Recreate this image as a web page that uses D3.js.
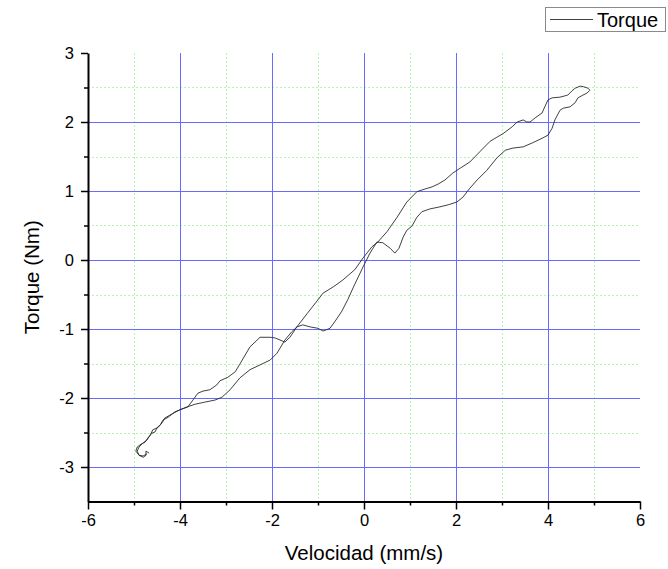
<!DOCTYPE html>
<html>
<head>
<meta charset="utf-8">
<script src="https://cdn.jsdelivr.net/npm/d3@7"></script>
<style>
  body { margin: 0; background: #fff; }
  svg { display: block; font-family: "Liberation Sans", Arial, sans-serif; }
</style>
</head>
<body>
<svg id="chart" width="668" height="569"></svg>
<script>
// Axis ticks
const xTicks = [-6, -4, -2, 0, 2, 4, 6];
const xMinorTicks = [-5, -3, -1, 1, 3, 5];
const yTicks = [-3, -2, -1, 0, 1, 2, 3];
const yMinorTicks = [-2.5, -1.5, -0.5, 0.5, 1.5, 2.5];

// Hysteresis loop: outgoing branch (negative -> positive velocity)
const velIda = [-4.72,-4.80,-4.89,-4.93,-4.89,-4.80,-4.72,-4.65,-4.59,-4.48,-4.39,-4.33,-4.17,-4.00,-3.85,-3.67,-3.46,-3.24,-3.09,-2.91,-2.70,-2.48,-2.26,-2.04,-1.89,-1.72,-1.57,-1.46,-1.24,-1.04,-0.89,-0.67,-0.46,-0.20,-0.02,0.17,0.30,0.50,0.72,0.93,1.15,1.33,1.48,1.61,1.76,1.93,2.09,2.30,2.52,2.74,2.89,3.02,3.22,3.33,3.46,3.54,3.61,3.72,3.87,3.93,4.00,4.09,4.26,4.43,4.52,4.59,4.70,4.78,4.87,4.91];
const torIda = [-2.81,-2.84,-2.83,-2.77,-2.71,-2.65,-2.61,-2.54,-2.46,-2.43,-2.36,-2.29,-2.23,-2.17,-2.13,-2.09,-2.06,-2.03,-1.99,-1.88,-1.71,-1.59,-1.52,-1.45,-1.35,-1.16,-1.04,-0.97,-0.78,-0.61,-0.48,-0.39,-0.29,-0.14,0.03,0.19,0.26,0.41,0.62,0.84,0.99,1.03,1.06,1.10,1.16,1.26,1.33,1.42,1.57,1.72,1.78,1.83,1.93,2.00,2.03,2.00,2.00,2.06,2.13,2.22,2.32,2.35,2.36,2.39,2.45,2.49,2.52,2.51,2.49,2.46];

// Return branch (positive -> negative velocity)
const velVuelta = [4.85,4.76,4.65,4.59,4.48,4.33,4.26,4.15,4.09,4.00,3.89,3.67,3.46,3.22,3.07,2.89,2.67,2.46,2.30,2.15,2.02,1.83,1.65,1.43,1.26,1.15,1.04,0.93,0.85,0.76,0.67,0.57,0.41,0.28,0.13,-0.02,-0.20,-0.35,-0.48,-0.61,-0.74,-0.89,-1.00,-1.17,-1.33,-1.46,-1.61,-1.72,-1.93,-2.04,-2.26,-2.48,-2.70,-2.80,-2.96,-3.13,-3.20,-3.35,-3.50,-3.61,-3.72,-3.83,-4.00,-4.11,-4.26,-4.37,-4.43,-4.50,-4.54,-4.61,-4.70,-4.76,-4.85,-4.93,-4.96,-4.89,-4.80,-4.74,-4.74,-4.67];
const torVuelta = [2.42,2.39,2.35,2.28,2.22,2.20,2.17,2.03,1.91,1.81,1.77,1.70,1.64,1.62,1.59,1.48,1.30,1.16,1.04,0.91,0.84,0.80,0.77,0.74,0.70,0.62,0.49,0.43,0.33,0.17,0.10,0.17,0.25,0.26,0.10,-0.10,-0.35,-0.57,-0.74,-0.87,-0.99,-1.03,-0.99,-0.97,-0.94,-0.97,-1.12,-1.19,-1.13,-1.12,-1.12,-1.26,-1.51,-1.62,-1.70,-1.75,-1.81,-1.88,-1.90,-1.93,-2.03,-2.13,-2.17,-2.20,-2.28,-2.32,-2.39,-2.43,-2.49,-2.51,-2.58,-2.64,-2.67,-2.71,-2.77,-2.83,-2.86,-2.83,-2.77,-2.80];

const seriesName = "Torque";
const xTitle = "Velocidad (mm/s)";
const yTitle = "Torque (Nm)";

const svg = d3.select("#chart");
const x = d3.scaleLinear().domain([-6, 6]).range([88, 640]);
const y = d3.scaleLinear().domain([-3.5, 3]).range([501.5, 53]);

const grid = svg.append("g");

// minor grid (dotted green)
grid.selectAll(".mgx").data(xMinorTicks).join("line")
  .attr("x1", d => x(d) + 0.5).attr("x2", d => x(d) + 0.5)
  .attr("y1", y(3)).attr("y2", y(-3.5))
  .attr("stroke", "#b4f5b4").attr("stroke-width", 1).attr("stroke-dasharray", "2,2");
grid.selectAll(".mgy").data(yMinorTicks).join("line")
  .attr("y1", d => Math.round(y(d)) + 0.5).attr("y2", d => Math.round(y(d)) + 0.5)
  .attr("x1", x(-6)).attr("x2", x(6))
  .attr("stroke", "#b4f5b4").attr("stroke-width", 1).attr("stroke-dasharray", "2,2");

// major grid (blue)
grid.selectAll(".gx").data(xTicks.filter(d => d > -6 && d < 6)).join("line")
  .attr("x1", d => x(d) + 0.5).attr("x2", d => x(d) + 0.5)
  .attr("y1", y(3)).attr("y2", y(-3.5))
  .attr("stroke", "#6a6aff").attr("stroke-width", 1);
grid.selectAll(".gy").data(yTicks.filter(d => d < 3)).join("line")
  .attr("y1", d => Math.round(y(d)) + 0.5).attr("y2", d => Math.round(y(d)) + 0.5)
  .attr("x1", x(-6)).attr("x2", x(6))
  .attr("stroke", "#6a6aff").attr("stroke-width", 1);

// loop curve
const pts = velIda.map((v, i) => [v, torIda[i]])
  .concat(velVuelta.map((v, i) => [v, torVuelta[i]]));
svg.append("path")
  .datum(pts)
  .attr("fill", "none")
  .attr("stroke", "#2a2a2a")
  .attr("stroke-width", 0.9)
  .attr("stroke-linejoin", "round")
  .attr("d", d3.line().x(d => x(d[0])).y(d => y(d[1])));

// axes
const fmt = d => String(d);
function styleAxis(g) {
  g.select(".domain").attr("stroke", "#000").attr("stroke-width", 2);
  g.selectAll(".tick line").attr("stroke", "#000").attr("stroke-width", 1.5);
  g.selectAll("text").attr("fill", "#000").attr("font-size", "16.5px")
    .attr("font-family", "'Liberation Sans', Arial, sans-serif");
}

const xAxis = svg.append("g").attr("transform", `translate(0,${y(-3.5)})`)
  .call(d3.axisBottom(x).tickValues(xTicks).tickFormat(fmt).tickSize(8).tickSizeOuter(0).tickPadding(5));
styleAxis(xAxis);
const xAxisMinor = svg.append("g").attr("transform", `translate(0,${y(-3.5)})`)
  .call(d3.axisBottom(x).tickValues(xMinorTicks).tickFormat("").tickSize(4).tickSizeOuter(0));
xAxisMinor.select(".domain").remove();
xAxisMinor.selectAll(".tick line").attr("stroke", "#000").attr("stroke-width", 1.5);

const yAxis = svg.append("g").attr("transform", `translate(${x(-6)},0)`)
  .call(d3.axisLeft(y).tickValues(yTicks).tickFormat(fmt).tickSize(7).tickSizeOuter(0).tickPadding(7));
styleAxis(yAxis);
const yAxisMinor = svg.append("g").attr("transform", `translate(${x(-6)},0)`)
  .call(d3.axisLeft(y).tickValues(yMinorTicks).tickFormat("").tickSize(4).tickSizeOuter(0));
yAxisMinor.select(".domain").remove();
yAxisMinor.selectAll(".tick line").attr("stroke", "#000").attr("stroke-width", 1.5);

// axis titles
svg.append("text")
  .attr("x", (x(-6) + x(6)) / 2).attr("y", 560)
  .attr("text-anchor", "middle").attr("font-size", "20.5px").attr("fill", "#000")
  .text(xTitle);
svg.append("text")
  .attr("transform", `translate(39,${(y(3) + y(-3.5)) / 2}) rotate(-90)`)
  .attr("text-anchor", "middle").attr("font-size", "20.5px").attr("fill", "#000")
  .text(yTitle);

// legend
const lg = svg.append("g");
lg.append("rect").attr("x", 545.5).attr("y", 7.5).attr("width", 120).attr("height", 24)
  .attr("fill", "#fff").attr("stroke", "#8a8a8a").attr("stroke-width", 1);
lg.append("line").attr("x1", 550).attr("x2", 593).attr("y1", 19.5).attr("y2", 19.5)
  .attr("stroke", "#2a2a2a").attr("stroke-width", 0.9);
lg.append("text").attr("x", 597).attr("y", 26.5).attr("font-size", "20px").attr("fill", "#000")
  .text(seriesName);
</script>
</body>
</html>
